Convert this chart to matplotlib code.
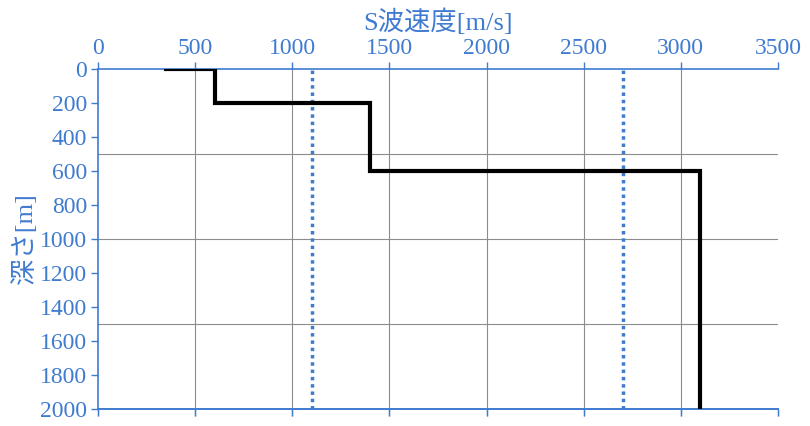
import matplotlib
matplotlib.use("Agg")
import matplotlib.pyplot as plt
import numpy as np

# Step profile (velocity m/s, depth m)
velocity = [350, 600, 600, 1400, 1400, 3100, 3100]
depth = [0, 0, 200, 200, 600, 600, 2000]
ref_velocities = [1100, 2700]

x_ticks = [0, 500, 1000, 1500, 2000, 2500, 3000, 3500]
y_ticks = [0, 200, 400, 600, 800, 1000, 1200, 1400, 1600, 1800, 2000]
grid_y = [500, 1000, 1500]
grid_x = [500, 1000, 1500, 2000, 2500, 3000]

blue = "#3f7bd0"
plt.rcParams['font.family'] = ['Liberation Serif', 'Noto Sans CJK JP']

fig = plt.figure(figsize=(8.1, 4.26), dpi=100)
ax = fig.add_axes([98/810, 1 - 409/426, (778-98)/810, (409-69)/426])

ax.set_xlim(0, 3500)
ax.set_ylim(2000, 0)

for gx in grid_x:
    ax.axvline(gx, color="#8c8c8c", lw=0.8, zorder=1)
for gy in grid_y:
    ax.axhline(gy, color="#8c8c8c", lw=0.8, zorder=1)

for rv in ref_velocities:
    ax.axvline(rv, color=blue, lw=2.5, linestyle=(0, (1, 1.1)), zorder=2)

ax.plot(velocity, depth, color="black", lw=3, solid_joinstyle="miter", zorder=3)

ax.xaxis.tick_top()
ax.xaxis.set_label_position("top")
ax.set_xticks(x_ticks)
ax.set_yticks(y_ticks)
ax.tick_params(axis="x", which="both", top=True, bottom=True, direction="out",
               colors=blue, labelsize=17, length=5, width=1, pad=2)
ax.tick_params(axis="y", direction="out", colors=blue, labelsize=17, length=5, width=1, pad=3)

# bottom ticks pointing down: use secondary axis
sec = ax.secondary_xaxis("bottom")
sec.set_xticks(x_ticks)
sec.tick_params(axis="x", direction="out", length=5, colors="#a9c4ea", width=1, labelbottom=False)
sec.spines["bottom"].set_color(blue)
sec.spines["bottom"].set_linewidth(1.2)

for s in ["top", "left", "bottom"]:
    ax.spines[s].set_color(blue)
    ax.spines[s].set_linewidth(1.2)
ax.spines["right"].set_visible(False)

ax.set_xlabel("S波速度[m/s]", color=blue, fontsize=19, labelpad=6)
ax.set_ylabel("深さ[m]", color=blue, fontsize=19, labelpad=2)

fig.savefig("out.png", dpi=100)
